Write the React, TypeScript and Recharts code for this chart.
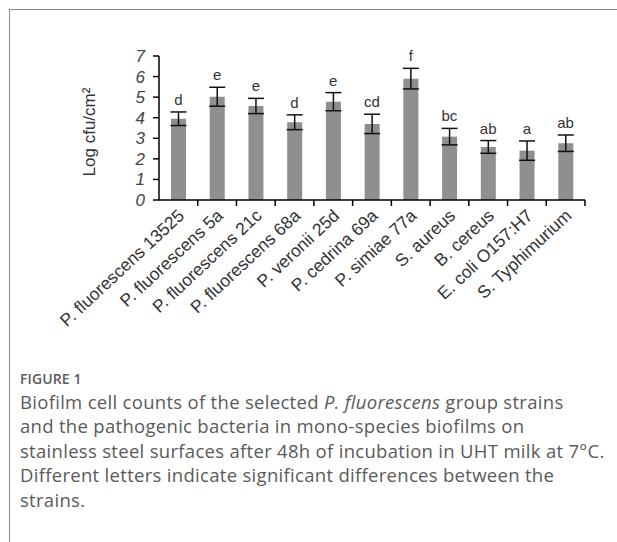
import React from 'react'
import {
  ComposedChart, Bar, Line, XAxis, YAxis, ErrorBar, LabelList, Label,
} from 'recharts'

const strains = [
  'P. fluorescens 13525', 'P. fluorescens 5a', 'P. fluorescens 21c', 'P. fluorescens 68a',
  'P. veronii 25d', 'P. cedrina 69a', 'P. simiae 77a', 'S. aureus', 'B. cereus',
  'E. coli O157:H7', 'S. Typhimurium',
]
const means = [3.95, 5.02, 4.57, 3.78, 4.78, 3.7, 5.9, 3.08, 2.58, 2.4, 2.76]
const errs = [0.33, 0.46, 0.37, 0.36, 0.44, 0.47, 0.5, 0.4, 0.31, 0.47, 0.4]
const letters = ['d', 'e', 'e', 'd', 'e', 'cd', 'f', 'bc', 'ab', 'a', 'ab']
const yTicks = [0, 1, 2, 3, 4, 5, 6, 7]

const data = strains.map((name, i) => ({
  name, mean: means[i], err: errs[i], top: means[i] + errs[i], letter: letters[i],
}))

const FONT = "Arial, 'Liberation Sans', sans-serif"

function StrainTick({ x, y, payload }: any) {
  const off = payload?.offset ?? 0
  return (
    <g>
      <line x1={x + off} x2={x + off} y1={y} y2={y + 6} stroke="#000" strokeWidth={1.5} />
      <text
        x={x + 7} y={y + 17}
        textAnchor="end"
        transform={`rotate(-43, ${x + 7}, ${y + 17})`}
        fontFamily={FONT}
        fontSize={17.5}
        fill="#333"
      >
        {payload.value}
      </text>
    </g>
  )
}

function ValueTick({ x, y, payload }: any) {
  return (
    <text x={x} y={y} dy={6} textAnchor="end" fontFamily={FONT} fontSize={17} fontStyle="italic" fill="#444">
      {payload.value}
    </text>
  )
}

export default function App() {
  return (
    <div style={{ position: 'relative', width: 617, height: 542, background: '#fff', overflow: 'hidden' }}>
      <style>{'body{margin:0}'}</style>
      <div style={{ position: 'absolute', left: 9, top: 9, width: 620, height: 560, borderTop: '1px solid #8a8a8a', borderLeft: '1px solid #8a8a8a' }} />
      <div style={{ position: 'absolute', left: 0, top: 0 }}>
        <ComposedChart width={617} height={360} data={data} margin={{ top: 56, right: 32, left: 119, bottom: 10 }}>
          <XAxis
            dataKey="name"
            height={150}
            interval={0}
            tickLine={false}
            tickSize={0}
            tickMargin={0}
            axisLine={{ stroke: '#000', strokeWidth: 1.5 }}
            tick={<StrainTick />}
          />
          <YAxis
            width={40}
            domain={[0, 7]}
            ticks={yTicks}
            interval={0}
            tickSize={6}
            tickMargin={8}
            axisLine={{ stroke: '#000', strokeWidth: 1.5 }}
            tickLine={{ stroke: '#000', strokeWidth: 1.5 }}
            tick={<ValueTick />}
          >
            <Label
              value="Log cfu/cm²"
              angle={-90}
              position="left"
              offset={30}
              dy={4}
              style={{ fontFamily: FONT, fontSize: 17, fill: '#333', textAnchor: 'middle' }}
            />
          </YAxis>
          <Bar dataKey="mean" fill="#8f8f8f" barSize={15} isAnimationActive={false}>
            <ErrorBar dataKey="err" width={8} stroke="#111" strokeWidth={1.5} />
          </Bar>
          <Line dataKey="top" stroke="none" dot={false} activeDot={false} isAnimationActive={false}>
            <LabelList
              dataKey="letter"
              position="top"
              offset={7}
              style={{ fontFamily: FONT, fontSize: 15, fill: '#333' }}
            />
          </Line>
        </ComposedChart>
      </div>
      <div style={{ position: 'absolute', left: 20, top: 369, fontFamily: "'Open Sans', sans-serif", color: '#5a5a5a' }}>
        <div style={{ fontSize: 14, fontWeight: 600, letterSpacing: 0.1, marginBottom: 2 }}>FIGURE 1</div>
        <div style={{ fontSize: 18.5, lineHeight: '24.4px', fontWeight: 400, letterSpacing: 0.3 }}>
          Biofilm cell counts of the selected <i>P. fluorescens</i> group strains<br />
          and the pathogenic bacteria in mono-species biofilms on<br />
          stainless steel surfaces after 48h of incubation in UHT milk at 7°C.<br />
          Different letters indicate significant differences between the<br />
          strains.
        </div>
      </div>
    </div>
  )
}
